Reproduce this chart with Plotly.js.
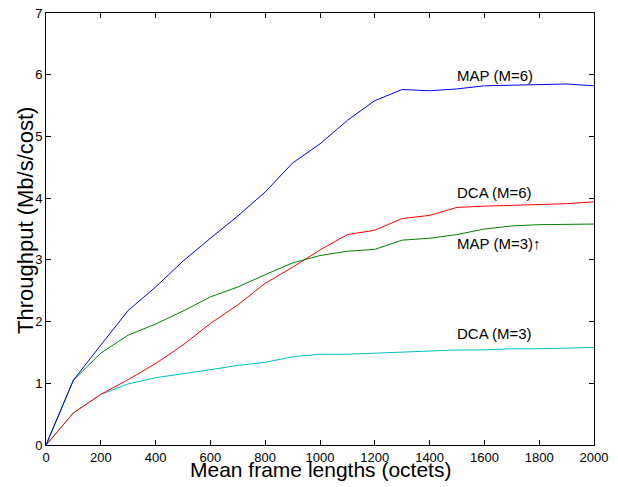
<!DOCTYPE html>
<html>
<head>
<meta charset="utf-8">
<script src="https://cdn.plot.ly/plotly-3.0.1.min.js"></script>
<style>html,body{margin:0;padding:0;background:#fff;}#chart{width:618px;height:487px;}</style>
</head>
<body>
<div id="chart"></div>
<script>
const frameLengths = [0,100,200,300,400,500,600,700,800,900,1000,1100,1200,1300,1400,1500,1600,1700,1800,1900,2000];
const mapM6 = [0,1.05,1.62,2.18,2.56,2.98,3.35,3.71,4.10,4.57,4.88,5.26,5.58,5.76,5.74,5.77,5.82,5.83,5.83,5.85,5.82];
const dcaM6 = [0,0.52,0.82,1.06,1.32,1.62,1.97,2.27,2.62,2.88,3.16,3.41,3.48,3.67,3.72,3.85,3.87,3.88,3.90,3.91,3.94];
const mapM3 = [0,1.05,1.49,1.78,1.96,2.17,2.40,2.56,2.76,2.95,3.07,3.14,3.17,3.32,3.35,3.41,3.50,3.55,3.57,3.58,3.58];
const dcaM3 = [0,0.52,0.82,0.99,1.09,1.15,1.22,1.29,1.34,1.43,1.47,1.47,1.49,1.50,1.52,1.54,1.54,1.56,1.56,1.57,1.58];
const seriesLabels = ["MAP (M=6)","DCA (M=6)","MAP (M=3)\u2191","DCA (M=3)"];
const labelY = [5.99, 4.09, 3.27, 1.80];
const labelX = 1500;
const xTicks = [0,200,400,600,800,1000,1200,1400,1600,1800,2000];
const yTicks = [0,1,2,3,4,5,6,7];
const xTitle = 'Mean frame lengths (octets)';
const yTitle = 'Throughput (Mb/s/cost)';

const FONT = 'Liberation Sans, Arial, sans-serif';
const series = [mapM6, dcaM6, mapM3, dcaM3];
const colors = ["#0000ff","#ff0000","#008000","#00bfbf"];
const traces = series.map((s,i)=>({
  x: frameLengths, y: s, type:'scatter', mode:'lines',
  line:{color:colors[i], width:1}, name: seriesLabels[i]
}));
const order = [3,1,2,0];
const data = order.map(i=>traces[i]);

const axisCommon = {
  showgrid:false, zeroline:false, showline:true, linecolor:'#000', linewidth:1,
  mirror:'allticks', ticks:'inside', ticklen:5, tickcolor:'#000', tickwidth:1,
  tickfont:{family:FONT, size:13, color:'#000'}
};
const annotations = seriesLabels.map((t,i)=>({
  x:labelX, y:labelY[i], xref:'x', yref:'y', text:t, showarrow:false,
  xanchor:'left', yanchor:'middle', xshift:-2,
  font:{family:FONT, size:15, color:'#000'}
}));
annotations.push({
  x:0.5, y:0, xref:'paper', yref:'paper', text:xTitle, showarrow:false,
  xanchor:'center', yanchor:'middle', yshift:-24, font:{family:FONT, size:21, color:'#000'}
});
annotations.push({
  x:0, y:0.5185, xref:'paper', yref:'paper', text:yTitle, showarrow:false, textangle:-90,
  xanchor:'center', yanchor:'middle', xshift:-21, font:{family:FONT, size:22, color:'#000'}
});
const layout = {
  width:618, height:487,
  margin:{l:46, r:24, t:13, b:42},
  paper_bgcolor:'#fff', plot_bgcolor:'#fff',
  showlegend:false,
  xaxis: Object.assign({}, axisCommon, {
    range:[0,2000], tickvals:xTicks, ticktext:xTicks.map(String)
  }),
  yaxis: Object.assign({}, axisCommon, {
    range:[0,7], tickvals:yTicks, ticktext:yTicks.map(String)
  }),
  annotations: annotations
};
Plotly.newPlot('chart', data, layout, {staticPlot:true, displayModeBar:false});
</script>
</body>
</html>
